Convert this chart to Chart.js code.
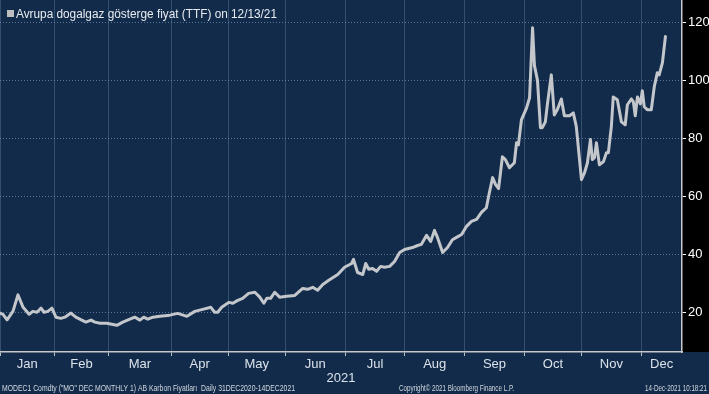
<!DOCTYPE html>
<html lang="tr">
<head>
    <meta charset="UTF-8">
    <title>Avrupa dogalgaz gösterge fiyat (TTF)</title>
    <script src="https://cdn.jsdelivr.net/npm/chart.js"></script>
    <style>
        html, body { margin: 0; padding: 0; background: #122b4a; }
        #chart { display: block; }
    </style>
</head>
<body>
    <canvas id="chart" width="709" height="394"></canvas>
    <script>
        // trading-day index (0 = first trading day of 2021) and TTF price, EUR/MWh
        const tradingDay = [
            0, 1.1, 2.6, 4.8, 6.6, 8.5, 10.7, 12.1, 13.6, 15.1, 16.2, 17.6, 19.1, 20.6, 22.4, 23.9,
            26.1, 27.9, 30.1, 31.6, 33.5, 34.9, 36.8, 39.3, 43, 45.2, 47.8, 49.6, 51.5, 52.9, 54.4, 56.3,
            58.8, 62.5, 65.4, 68.8, 71.7, 74.6, 77.6, 79, 80.1, 81.6, 84.2, 85.7, 87.5, 89.3, 91.5, 93.8,
            95.6, 97.1, 98.2, 99.6, 101.1, 102.9, 105.5, 108.5, 111.4, 113.2, 115.1, 116.9, 118.8, 121,
            124.3, 126.8, 129.4, 130.1, 131.6, 133.5, 134.6, 135.7, 137.1, 138.6, 140.1, 141.5, 143.4, 145.2,
            147.1, 148.9, 151.8, 153.7, 155.1, 157, 158.5, 159.9, 161, 162.9, 164.7, 166.5, 168, 169.9,
            171.7, 173.5, 175.4, 177.2, 179, 180.1, 181.3, 182.4, 183.5, 184.9, 186, 187.5, 189.3, 190.1,
            190.8, 191.9, 193.8, 194.9, 196, 196.7, 197.8, 198.9, 199.6, 200.7, 201.5, 202.9, 204, 205.1,
            206.6, 207.7, 209.6, 211, 212.1, 214, 215.1, 216.2, 217.3, 218, 218.8, 219.5, 220.6, 222.1,
            223.2, 223.9, 225, 225.7, 227.2, 228.7, 230.1, 230.9, 232.4, 233.1, 233.8, 234.6, 235.7, 236.4,
            237.1, 238.2, 239.7, 240.8, 241.9, 242.6, 243.8, 244.9
        ];
        const ttf = [
            19.7, 19.3, 17.4, 20.4, 26, 21.7, 19.3, 20.3, 20, 21.4, 20, 20.3, 21.4, 18.3, 17.9, 18.3,
            19.7, 18.3, 17.3, 16.6, 17.3, 16.6, 16.2, 16.2, 15.5, 16.6, 17.6, 18.3, 17.3, 18.3, 17.6, 18.3,
            18.6, 19, 19.6, 18.6, 20.3, 21, 21.7, 20, 20, 21.7, 23.4, 23.1, 24.1, 24.8, 26.5, 26.9,
            25.2, 23.1, 24.8, 24.8, 26.9, 25.2, 25.5, 25.8, 28.2, 27.9, 28.6, 27.6, 29.6, 31,
            33, 35.5, 36.8, 38.2, 33.7, 33, 36.8, 34.8, 35.1, 34.1, 35.8, 35.5, 35.8, 37.5,
            40.6, 41.6, 42.3, 43, 43.4, 46.5, 44.4, 48.2, 45.8, 40.6, 42.3, 45, 45.8, 46.8,
            49.6, 51.3, 52, 54.4, 56, 61.2, 66.4, 64, 62.6, 73.6, 72.6, 69.8, 71.5, 78.4,
            77.7, 86.3, 90.4, 93.9, 118, 105, 100, 83.6, 83.6, 85.6, 92, 101.8, 88, 89.8,
            93.5, 87.7, 87.7, 88.7, 84, 65.7, 68, 71.5, 79.5, 72.6, 73.3, 78.4, 70.8, 71.9,
            75, 75, 84, 94.2, 93.2, 85.6, 84.6, 91.5, 93.5, 92.5, 87.7, 94.2, 91.8, 96.3,
            90.8, 89.8, 89.8, 97.7, 102.5, 101.8, 106, 115
        ];
        const monthNames = ['Jan', 'Feb', 'Mar', 'Apr', 'May', 'Jun', 'Jul', 'Aug', 'Sep', 'Oct', 'Nov', 'Dec'];
        const monthStarts = [0, 20, 40, 63, 84, 105, 127, 149, 171, 193, 214, 236];
        const yTicks = [20, 40, 60, 80, 100, 120];
        const xEnd = 251;

        const NAVY = '#122b4a';
        const FONT = '"Liberation Sans", Arial, sans-serif';

        // draw text squeezed/stretched to a given width
        function fitText(ctx, text, x, y, width, size, family) {
            ctx.font = size + 'px ' + family;
            const w = ctx.measureText(text).width;
            ctx.save();
            ctx.translate(x, y);
            ctx.scale(width / w, 1);
            ctx.textAlign = 'left';
            ctx.fillText(text, 0, 0);
            ctx.restore();
        }

        const bloombergFrame = {
            id: 'bloombergFrame',
            beforeDraw(chart) {
                const { ctx, chartArea: a, width, height } = chart;
                ctx.save();
                ctx.fillStyle = NAVY;
                ctx.fillRect(0, 0, width, height);
                ctx.fillStyle = '#000000';
                ctx.fillRect(a.right, 0, width - a.right, a.bottom);
                ctx.restore();
            },
            afterDraw(chart) {
                const { ctx, scales } = chart;
                const x = scales.x;
                ctx.save();
                ctx.textBaseline = 'middle';
                ctx.fillStyle = '#dbe2ea';
                ctx.font = '13px ' + FONT;
                ctx.textAlign = 'center';
                monthStarts.forEach((m, i) => {
                    const next = i + 1 < monthStarts.length ? monthStarts[i + 1] : xEnd;
                    ctx.fillText(monthNames[i], x.getPixelForValue((m + next) / 2), 364);
                });
                ctx.fillText('2021', 341, 378);

                // title
                ctx.fillStyle = '#bfbfbf';
                ctx.fillRect(7, 10, 7, 7);
                ctx.fillStyle = '#e8ecf0';
                ctx.textBaseline = 'alphabetic';
                fitText(ctx, 'Avrupa dogalgaz gösterge fiyat (TTF) on 12/13/21', 16, 18, 261, 12.5, FONT);

                // footer
                ctx.fillStyle = '#d2d9e0';
                ctx.textBaseline = 'middle';
                fitText(ctx, 'MODEC1 Comdty ("MO" DEC MONTHLY 1) AB Karbon Fiyatları  Daily 31DEC2020-14DEC2021', 2, 389, 293, 8.5, FONT);
                fitText(ctx, 'Copyright© 2021 Bloomberg Finance L.P.', 399, 389, 115, 8.5, FONT);
                fitText(ctx, '14-Dec-2021 10:18:21', 645, 389, 62, 8.5, FONT);
                ctx.restore();
            }
        };

        new Chart(document.getElementById('chart'), {
            type: 'line',
            data: {
                datasets: [{
                    label: 'TTF',
                    data: tradingDay.map((d, i) => ({ x: d, y: ttf[i] })),
                    borderColor: '#c3c6ca',
                    borderWidth: 3,
                    borderJoinStyle: 'round',
                    borderCapStyle: 'round',
                    pointRadius: 0,
                    tension: 0,
                    fill: false
                }]
            },
            options: {
                responsive: false,
                devicePixelRatio: 1,
                animation: false,
                layout: { padding: { top: 0, left: 0, right: 0, bottom: 38 } },
                plugins: {
                    legend: { display: false },
                    tooltip: { enabled: false }
                },
                scales: {
                    x: {
                        type: 'linear',
                        min: 0,
                        max: xEnd,
                        afterBuildTicks: (s) => { s.ticks = monthStarts.map(v => ({ value: v })); },
                        afterFit: (s) => { s.paddingLeft = 0; s.paddingRight = 0; },
                        ticks: { display: false },
                        grid: {
                            color: 'rgba(95,125,160,0.45)',
                            lineWidth: 1,
                            drawTicks: true,
                            tickLength: 4,
                            tickColor: '#b8c0c8'
                        },
                        border: { display: true, color: '#c8c8c8', width: 1.5 }
                    },
                    y: {
                        position: 'right',
                        min: 6.3,
                        max: 127.6,
                        afterBuildTicks: (s) => { s.ticks = yTicks.map(v => ({ value: v })); },
                        afterFit: (s) => { s.width = 27; s.paddingTop = 0; s.paddingBottom = 0; },
                        ticks: {
                            color: '#ffffff',
                            padding: 2,
                            font: { family: FONT, size: 13 }
                        },
                        grid: {
                            color: 'rgba(120,150,185,0.7)',
                            lineWidth: 1,
                            drawTicks: true,
                            tickLength: 4,
                            tickColor: '#ffffff'
                        },
                        border: { display: true, color: '#c8c8c8', width: 1.5, dash: [1, 2] }
                    }
                }
            },
            plugins: [bloombergFrame]
        });
    </script>
</body>
</html>
